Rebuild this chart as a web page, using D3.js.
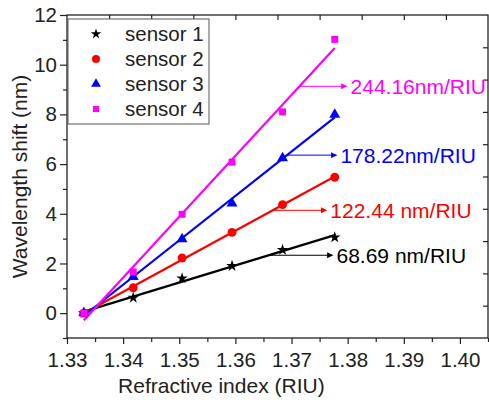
<!DOCTYPE html>
<html>
<head>
<meta charset="utf-8">
<script src="https://cdn.jsdelivr.net/npm/d3@7/dist/d3.min.js"></script>
<style>
  html, body { margin: 0; padding: 0; background: #fff; }
  svg { display: block; font-family: "Liberation Sans", Arial, sans-serif; }
  .tick text { font-size: 20.5px; fill: #222; }
</style>
</head>
<body>
<svg id="chart" width="489" height="404"></svg>
<script>
(function () {
  "use strict";

  // refractive index of the samples
  const riu = [1.3330, 1.3418, 1.3505, 1.3594, 1.3684, 1.3777];

  // wavelength shift (nm) per sensor
  const sensor1 = [0, 0.62, 1.40, 1.90, 2.55, 3.05];
  const sensor2 = [0, 1.02, 2.22, 3.25, 4.37, 5.47];
  const sensor3 = [0, 1.46, 2.98, 4.42, 6.24, 7.99];
  const sensor4 = [0, 1.66, 3.98, 6.08, 8.10, 11.02];

  const names   = ["sensor 1", "sensor 2", "sensor 3", "sensor 4"];
  const colors  = ["#000000", "#ff0000", "#0000ff", "#ff00ff"];
  const symbols = [d3.symbolStar, d3.symbolCircle, d3.symbolTriangle, d3.symbolSquare];
  const symSize = [42, 62, 52, 48];

  // sensitivity labels: text, y of the arrow (nm), x where the arrow ends (RIU)
  const sensLabels = ["68.69 nm/RIU", "122.44 nm/RIU", "178.22nm/RIU", "244.16nm/RIU"];
  const arrowY     = [2.33, 4.14, 6.36, 9.13];
  const arrowEndX  = [1.3773, 1.3762, 1.3780, 1.3798];

  const xTicks = [1.33, 1.34, 1.35, 1.36, 1.37, 1.38, 1.39, 1.40];
  const yTicks = [0, 2, 4, 6, 8, 10, 12];

  const series = [sensor1, sensor2, sensor3, sensor4];

  const svg = d3.select("#chart");
  const margin = { top: 15, right: 1, bottom: 66, left: 67 };
  const W = 489 - margin.left - margin.right;
  const H = 404 - margin.top - margin.bottom;

  const x = d3.scaleLinear().domain([1.33, 1.405]).range([0, W]);
  const y = d3.scaleLinear().domain([-1, 12]).range([H, 0]);

  const g = svg.append("g").attr("transform", `translate(${margin.left},${margin.top})`);

  // arrowheads
  const defs = svg.append("defs");
  colors.forEach((c, i) => {
    defs.append("marker")
      .attr("id", "ah" + i)
      .attr("viewBox", "0 0 10 10")
      .attr("refX", 9).attr("refY", 5)
      .attr("markerWidth", 8).attr("markerHeight", 6)
      .attr("markerUnits", "userSpaceOnUse")
      .attr("orient", "auto")
      .append("path").attr("d", "M0,0 L10,5 L0,10 Z").attr("fill", c);
  });

  // minor ticks (drawn first, shorter)
  const xMinor = d3.range(0, 16).map(k => 1.335 + k * 0.01).filter(v => v <= 1.4051);
  g.append("g").attr("class", "axis")
    .attr("transform", `translate(0,${H})`)
    .call(d3.axisBottom(x).tickValues(xMinor).tickSize(4).tickFormat(""))
    .call(a => a.select(".domain").remove());
  g.append("g").attr("class", "axis")
    .call(d3.axisLeft(y).tickValues([-1, 1, 3, 5, 7, 9, 11]).tickSize(4).tickFormat(""))
    .call(a => a.select(".domain").remove());

  // major ticks
  g.append("g").attr("class", "axis")
    .attr("transform", `translate(0,${H})`)
    .call(d3.axisBottom(x).tickValues(xTicks).tickSize(6).tickPadding(8).tickFormat(d3.format(".2f")))
    .call(a => a.select(".domain").remove());
  g.append("g").attr("class", "axis")
    .call(d3.axisLeft(y).tickValues(yTicks).tickSize(7).tickPadding(3).tickFormat(d3.format("d")))
    .call(a => a.select(".domain").remove());

  // mirrored inward ticks on top and right (ten divisions)
  const topTicks = d3.range(1, 10).map(k => 1.33 + k * 0.0075);
  const rightTicks = d3.range(1, 10).map(k => -1 + k * 1.3);
  g.append("g")
    .call(d3.axisTop(x).tickValues(topTicks).tickSize(-5).tickFormat(""))
    .call(a => a.select(".domain").remove());
  g.append("g").attr("transform", `translate(${W},0)`)
    .call(d3.axisRight(y).tickValues(rightTicks).tickSize(-5).tickFormat(""))
    .call(a => a.select(".domain").remove());

  g.selectAll(".tick line").attr("stroke", "#222").attr("stroke-width", 1.2);

  // frame
  g.append("rect")
    .attr("x", 0).attr("y", 0).attr("width", W).attr("height", H)
    .attr("fill", "none").attr("stroke", "#222").attr("stroke-width", 1.3);

  // axis titles
  svg.append("text")
    .attr("x", margin.left + x(1.3575)).attr("y", 393)
    .attr("text-anchor", "middle")
    .style("font-size", "21px").attr("fill", "#222")
    .text("Refractive index (RIU)");
  svg.append("text")
    .attr("transform", `translate(27,${margin.top + H / 2}) rotate(-90)`)
    .attr("text-anchor", "middle")
    .style("font-size", "21px").attr("fill", "#222")
    .text("Wavelength shift (nm)");

  // linear fits
  function fit(ys) {
    const mx = d3.mean(riu), my = d3.mean(ys);
    let sxy = 0, sxx = 0;
    riu.forEach((xv, i) => { sxy += (xv - mx) * (ys[i] - my); sxx += (xv - mx) * (xv - mx); });
    const slope = sxy / sxx;
    return { slope, intercept: my - slope * mx };
  }
  const fits = series.map(fit);

  const line = d3.line().x(d => x(d[0])).y(d => y(d[1]));
  const xLo = riu[0], xHi = riu[riu.length - 1];

  series.forEach((ys, i) => {
    const f = fits[i];
    g.append("path")
      .datum([[xLo, f.slope * xLo + f.intercept], [xHi, f.slope * xHi + f.intercept]])
      .attr("d", line)
      .attr("fill", "none")
      .attr("stroke", colors[i])
      .attr("stroke-width", 2.2);
  });

  // data markers
  series.forEach((ys, i) => {
    g.selectAll(".pt" + i)
      .data(riu.map((xv, k) => [xv, ys[k]]))
      .join("path")
      .attr("class", "pt" + i)
      .attr("transform", d => `translate(${x(d[0])},${y(d[1])})`)
      .attr("d", d3.symbol(symbols[i], symSize[i]))
      .attr("fill", colors[i]);
  });

  // sensitivity annotations
  series.forEach((ys, i) => {
    const f = fits[i];
    const xs = (arrowY[i] - f.intercept) / f.slope;
    g.append("line")
      .attr("x1", x(xs) + 1).attr("y1", y(arrowY[i]))
      .attr("x2", x(arrowEndX[i])).attr("y2", y(arrowY[i]))
      .attr("stroke", colors[i]).attr("stroke-width", 1)
      .attr("marker-end", `url(#ah${i})`);
    g.append("text")
      .attr("x", x(arrowEndX[i]) + 4)
      .attr("y", y(arrowY[i]))
      .attr("dy", "0.36em")
      .style("font-size", "21px")
      .attr("fill", colors[i])
      .text(sensLabels[i]);
  });

  // legend
  const leg = g.append("g").attr("transform", "translate(1,4)");
  leg.append("rect")
    .attr("x", 0).attr("y", 0).attr("width", 141).attr("height", 105)
    .attr("fill", "#fff").attr("stroke", "#555").attr("stroke-width", 1);
  names.forEach((n, i) => {
    const cy = 15 + i * 25;
    leg.append("path")
      .attr("transform", `translate(28,${cy})`)
      .attr("d", d3.symbol(symbols[i], symSize[i] * 0.8))
      .attr("fill", colors[i]);
    leg.append("text")
      .attr("x", 57).attr("y", cy).attr("dy", "0.36em")
      .style("font-size", "20.5px").attr("fill", "#222")
      .text(n);
  });
})();
</script>
</body>
</html>
